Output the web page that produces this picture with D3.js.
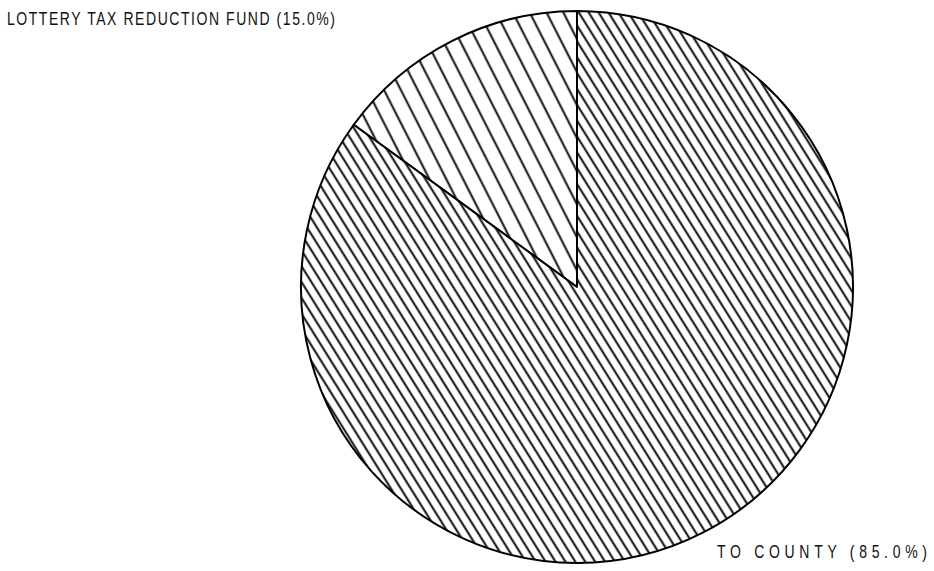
<!DOCTYPE html>
<html lang="en">
<head>
<meta charset="UTF-8">
<title>Lottery proceeds</title>
<script src="https://d3js.org/d3.v7.min.js"></script>
<style>
    body { margin: 0; background: #fff; overflow: hidden; }
    text { font-family: "Liberation Sans", Arial, sans-serif; fill: #111; }
</style>
</head>
<body>
<div id="chart"></div>
<script>
const labels = ["LOTTERY TAX REDUCTION FUND", "TO COUNTY"];
const shares = [15.0, 85.0];

const W = 934, H = 571;
const cx = 577, cy = 287, r = 276;

const svg = d3.select("#chart").append("svg")
    .attr("width", W).attr("height", H);

// hatch patterns: wide spacing for the small slice, dense for the big one
const hatch = [
    { id: "hatchA", gap: 15, rot: -27 },
    { id: "hatchB", gap: 8.4, rot: -32 }
];
const defs = svg.append("defs");
hatch.forEach(h => {
    const p = defs.append("pattern")
        .attr("id", h.id)
        .attr("patternUnits", "userSpaceOnUse")
        .attr("width", h.gap).attr("height", 20)
        .attr("patternTransform", `rotate(${h.rot})`);
    p.append("rect").attr("width", h.gap).attr("height", 20).attr("fill", "#fff");
    p.append("line")
        .attr("x1", h.gap / 2).attr("y1", 0)
        .attr("x2", h.gap / 2).attr("y2", 20)
        .attr("stroke", "#000").attr("stroke-width", 1.9);
});

const data = labels.map((l, i) => ({ label: l, value: shares[i] }));

// small slice sits counter-clockwise from 12 o'clock
const pie = d3.pie().value(d => d.value).sort(null)
    .startAngle(-2 * Math.PI * shares[0] / 100)
    .endAngle(2 * Math.PI - 2 * Math.PI * shares[0] / 100);
const arc = d3.arc().innerRadius(0).outerRadius(r);

const g = svg.append("g").attr("transform", `translate(${cx},${cy})`);
g.selectAll("path")
    .data(pie(data))
    .join("path")
    .attr("d", arc)
    .attr("fill", (d, i) => `url(#${hatch[i].id})`)
    .attr("stroke", "#000")
    .attr("stroke-width", 2)
    .attr("stroke-linejoin", "round");

// labels: narrow, tall plotter-style lettering
const labelPos = [
    { x: 7, y: 25, len: 328 },
    { x: 717, y: 558, len: 210 }
];
labelPos.forEach((p, i) => {
    svg.append("text")
        .attr("transform", `translate(${p.x},${p.y}) scale(1,1.25)`)
        .attr("font-size", 14)
        .attr("textLength", p.len).attr("lengthAdjust", "spacing")
        .text(`${labels[i]} (${shares[i].toFixed(1)}%)`);
});
</script>
</body>
</html>
